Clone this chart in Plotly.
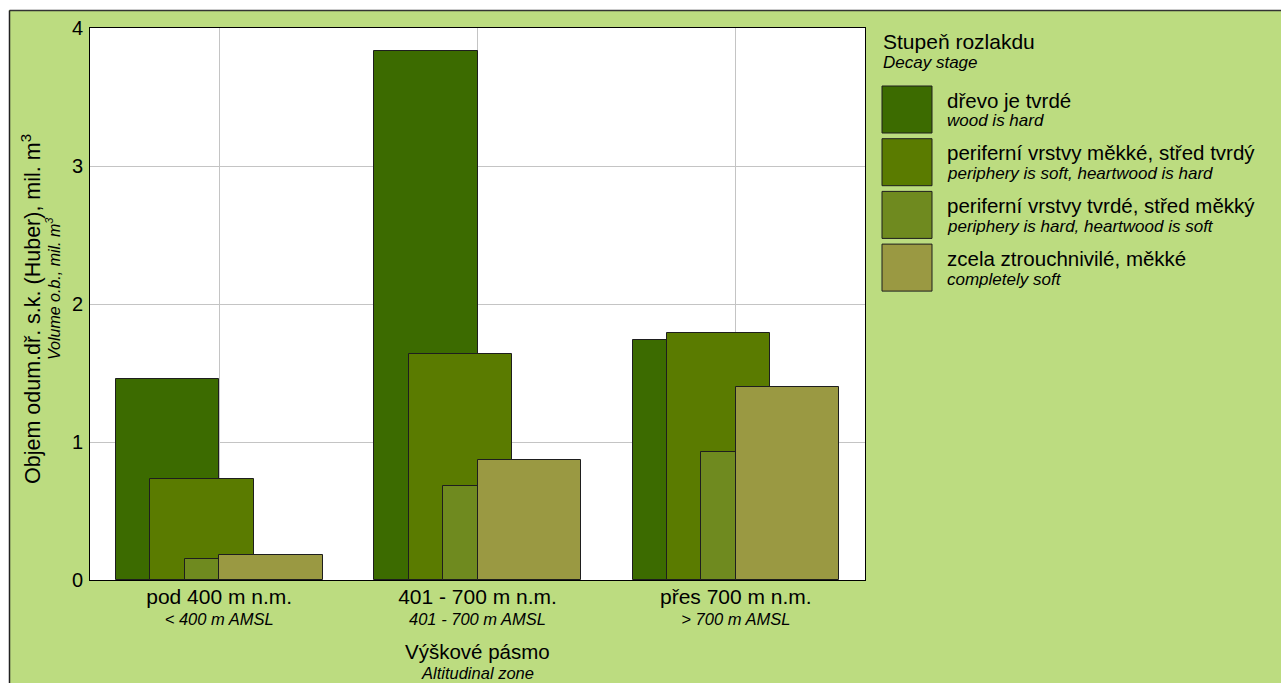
import plotly.graph_objects as go

# ---------------- data ----------------
zones_cz = ["pod 400 m n.m.", "401 - 700 m n.m.", "přes 700 m n.m."]
zones_en = ["&lt; 400 m AMSL", "401 - 700 m AMSL", "&gt; 700 m AMSL"]

stages_cz = ["dřevo je tvrdé",
             "periferní vrstvy měkké, střed tvrdý",
             "periferní vrstvy tvrdé, střed měkký",
             "zcela ztrouchnivilé, měkké"]
stages_en = ["wood is hard",
             "periphery is soft, heartwood is hard",
             "periphery is hard, heartwood is soft",
             "completely soft"]

wood_hard = [1.46, 3.83, 1.74]
periphery_soft = [0.73, 1.64, 1.79]
periphery_hard = [0.15, 0.68, 0.93]
completely_soft = [0.18, 0.87, 1.40]

y_ticks = [0, 1, 2, 3, 4]

# ---------------- style ----------------
colors = ["#3c6b00", "#5a7b00", "#6f8a1f", "#9a9942"]
bg_green = "#bcdc80"
FONT = "Liberation Sans, Arial, sans-serif"

W, H = 1281, 683
L, R, T, B = 90, 865, 28, 580


def px(x):
    return (x - L) / (R - L)


def py(y):
    return (B - y) / (B - T)


series = [wood_hard, periphery_soft, periphery_hard, completely_soft]
bar_w = 0.4
offsets = [-0.4, -0.4 + 0.4 / 3, -0.4 + 0.8 / 3, 0.0]

fig = go.Figure()
for i, vals in enumerate(series):
    fig.add_trace(go.Bar(
        x=zones_cz, y=vals, width=bar_w, offset=offsets[i],
        name=stages_cz[i], showlegend=False, opacity=1,
        marker=dict(color=colors[i], line=dict(color="#1e1e1e", width=1)),
    ))

ticktext = [f"<span style='font-size:21px'>{c}</span><br><i>{e}</i>"
            for c, e in zip(zones_cz, zones_en)]

annotations = []
# y axis title (two lines)
annotations.append(dict(xref="paper", yref="paper", x=px(31), y=py(309),
                        text="Objem odum.dř. s.k. (Huber), mil. m<sup>3</sup>",
                        textangle=-90, showarrow=False, xanchor="center", yanchor="middle",
                        font=dict(size=21.5, color="#000")))
annotations.append(dict(xref="paper", yref="paper", x=px(53), y=py(289),
                        text="<i>Volume o.b., mil. m<sup>3</sup></i>",
                        textangle=-90, showarrow=False, xanchor="center", yanchor="middle",
                        font=dict(size=16, color="#000")))
# x axis title (two lines)
annotations.append(dict(xref="paper", yref="paper", x=0.5, y=py(651),
                        text="Výškové pásmo", showarrow=False,
                        xanchor="center", yanchor="middle", font=dict(size=20.5, color="#000")))
annotations.append(dict(xref="paper", yref="paper", x=0.5, y=py(673),
                        text="<i>Altitudinal zone</i>", showarrow=False,
                        xanchor="center", yanchor="middle", font=dict(size=16.5, color="#000")))
# legend title
annotations.append(dict(xref="paper", yref="paper", x=px(881), y=py(41),
                        text="Stupeň rozlakdu", showarrow=False,
                        xanchor="left", yanchor="middle", font=dict(size=21, color="#000")))
annotations.append(dict(xref="paper", yref="paper", x=px(881), y=py(62),
                        text="<i>Decay stage</i>", showarrow=False,
                        xanchor="left", yanchor="middle", font=dict(size=17, color="#000")))

shapes = []
step = 52.7
for i in range(len(stages_cz)):
    top = 86 + i * step
    shapes.append(dict(type="rect", xref="paper", yref="paper",
                       x0=px(882), x1=px(932), y0=py(top + 47), y1=py(top),
                       fillcolor=colors[i], line=dict(color="#1e1e1e", width=1),
                       layer="above"))
    annotations.append(dict(xref="paper", yref="paper", x=px(945), y=py(top + 14),
                            text=stages_cz[i], showarrow=False,
                            xanchor="left", yanchor="middle", font=dict(size=20.5, color="#000")))
    annotations.append(dict(xref="paper", yref="paper", x=px(945), y=py(top + 35),
                            text=f"<i>{stages_en[i]}</i>", showarrow=False,
                            xanchor="left", yanchor="middle", font=dict(size=17, color="#000")))

# white strips and outer border of the figure
shapes.append(dict(type="rect", xref="paper", yref="paper",
                   x0=px(0), x1=px(9), y0=py(H), y1=py(0),
                   fillcolor="white", line=dict(width=0), layer="above"))
shapes.append(dict(type="rect", xref="paper", yref="paper",
                   x0=px(0), x1=px(W), y0=py(10), y1=py(0),
                   fillcolor="white", line=dict(width=0), layer="above"))
shapes.append(dict(type="line", xref="paper", yref="paper",
                   x0=px(9.5), x1=px(W), y0=py(10.5), y1=py(10.5),
                   line=dict(color="#333", width=1.5), layer="above"))
shapes.append(dict(type="line", xref="paper", yref="paper",
                   x0=px(9.5), x1=px(9.5), y0=py(H), y1=py(10.5),
                   line=dict(color="#222", width=1.5), layer="above"))

fig.update_layout(
    width=W, height=H,
    margin=dict(l=L, r=W - R, t=T, b=H - B, pad=0),
    paper_bgcolor=bg_green, plot_bgcolor="white",
    barmode="overlay", bargap=0,
    font=dict(family=FONT, color="#000"),
    showlegend=False,
    annotations=annotations, shapes=shapes,
    xaxis=dict(type="category", range=[-0.5, 2.5],
               tickvals=zones_cz, ticktext=ticktext,
               tickfont=dict(size=16.5, color="#000"),
               showgrid=True, gridcolor="#c4c4c4", gridwidth=1,
               showline=True, mirror=True, linecolor="#000", linewidth=1,
               ticks="", ticklabelstandoff=3, fixedrange=True),
    yaxis=dict(range=[0, 4], tickvals=y_ticks, ticktext=[str(v) for v in y_ticks],
               tickfont=dict(size=20, color="#000"),
               showgrid=True, gridcolor="#c4c4c4", gridwidth=1, zeroline=False,
               showline=True, mirror=True, linecolor="#000", linewidth=1,
               ticks="", ticklabelstandoff=2, fixedrange=True),
)

fig.write_html("out.html", config={"displayModeBar": False},
               post_script="document.body.style.margin='0';document.body.style.overflow='hidden';")
